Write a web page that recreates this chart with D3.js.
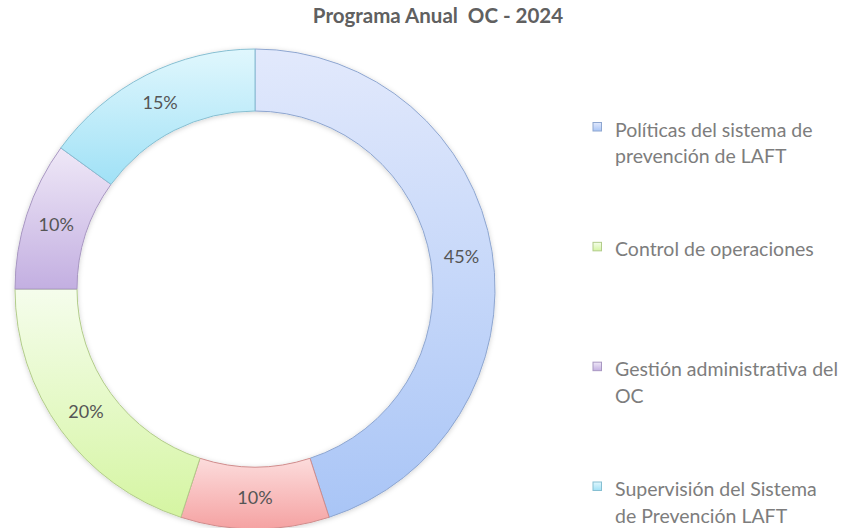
<!DOCTYPE html>
<html>
<head>
<meta charset="utf-8">
<script src="https://cdn.jsdelivr.net/npm/d3@7/dist/d3.min.js"></script>
<style>
  html, body { margin: 0; padding: 0; background: #ffffff; }
  svg { display: block; }
</style>
</head>
<body>
<svg id="chart" width="849" height="528"></svg>
<script>
// ---- data ----
const title = "Programa Anual  OC - 2024";
const categories = [
  "Políticas del sistema de prevención de LAFT",
  "",                                   // red slice: not listed in the legend
  "Control de operaciones",
  "Gestión administrativa del OC",
  "Supervisión del Sistema de Prevención LAFT"
];
const values = [45, 10, 20, 10, 15];
const valueLabels = ["45%", "10%", "20%", "10%", "15%"];
const legendLines = [
  ["Políticas del sistema de", "prevención de LAFT"],
  null,
  ["Control de operaciones"],
  ["Gestión administrativa del", "OC"],
  ["Supervisión del Sistema", "de Prevención LAFT"]
];
// ---- styles ----
const lightColors = ["#e2e9fc", "#fcdcdc", "#f5fdec", "#efe8f7", "#e0f7fd"];
const darkColors  = ["#a9c5f6", "#f5a2a2", "#d5f5a2", "#c3afe1", "#a0e1f6"];
const strokeColors = ["#8ea6d0", "#d08c8c", "#b2cc8a", "#a897c2", "#86bfd2"];

const svg = d3.select("#chart");
const cx = 255, cy = 289, outerR = 240, innerR = 178;
const FONT = "Lato, 'Open Sans', sans-serif";

const defs = svg.append("defs");
values.forEach((v, i) => {
  const g = defs.append("linearGradient")
    .attr("id", "grad" + i).attr("x1", 0).attr("y1", 0).attr("x2", 0).attr("y2", 1);
  g.append("stop").attr("offset", "0%").attr("stop-color", lightColors[i]);
  g.append("stop").attr("offset", "100%").attr("stop-color", darkColors[i]);
});
const f = defs.append("filter").attr("id", "shadow")
  .attr("x", "-10%").attr("y", "-10%").attr("width", "120%").attr("height", "120%");
f.append("feDropShadow").attr("dx", 0).attr("dy", 1).attr("stdDeviation", 2.5)
  .attr("flood-color", "#000").attr("flood-opacity", 0.18);

// title
svg.append("text")
  .attr("x", 438).attr("y", 23)
  .attr("text-anchor", "middle")
  .attr("font-family", FONT).attr("font-weight", "bold").attr("font-size", 20.5)
  .attr("fill", "#606060")
  .attr("xml:space", "preserve")
  .style("white-space", "pre")
  .text(title);

// donut
const pie = d3.pie().sort(null).value(d => d);
const arcs = pie(values);
const arc = d3.arc().innerRadius(innerR).outerRadius(outerR);

const g = svg.append("g").attr("transform", `translate(${cx},${cy})`);
g.append("g").attr("filter", "url(#shadow)")
  .selectAll("path").data(arcs).join("path")
  .attr("d", arc)
  .attr("fill", (d, i) => `url(#grad${i})`)
  .attr("stroke", (d, i) => strokeColors[i])
  .attr("stroke-width", 1);

g.selectAll("text.lbl").data(arcs).join("text")
  .attr("class", "lbl")
  .attr("transform", d => `translate(${arc.centroid(d)})`)
  .attr("dy", "0.36em")
  .attr("text-anchor", "middle")
  .attr("font-family", FONT).attr("font-size", 18)
  .attr("fill", "#555555")
  .text((d, i) => valueLabels[i]);

// legend
const legendItems = legendLines.map((lines, i) => ({ lines, i })).filter(d => d.lines);
const ly = d3.scalePoint().domain(legendItems.map(d => d.i)).range([136.5, 496]);
const lg = svg.append("g");
const item = lg.selectAll("g").data(legendItems).join("g")
  .attr("transform", d => `translate(0,${ly(d.i)})`);
item.append("rect")
  .attr("x", 593).attr("y", -14).attr("width", 8.5).attr("height", 8.5)
  .attr("fill", d => `url(#grad${d.i})`)
  .attr("stroke", d => strokeColors[d.i]).attr("stroke-width", 1);
item.append("text")
  .attr("font-family", FONT).attr("font-size", 19.5)
  .attr("fill", "#7d7d7d")
  .selectAll("tspan").data(d => d.lines).join("tspan")
  .attr("x", 615).attr("y", (d, j) => j * 26.5)
  .text(d => d);
</script>
</body>
</html>
